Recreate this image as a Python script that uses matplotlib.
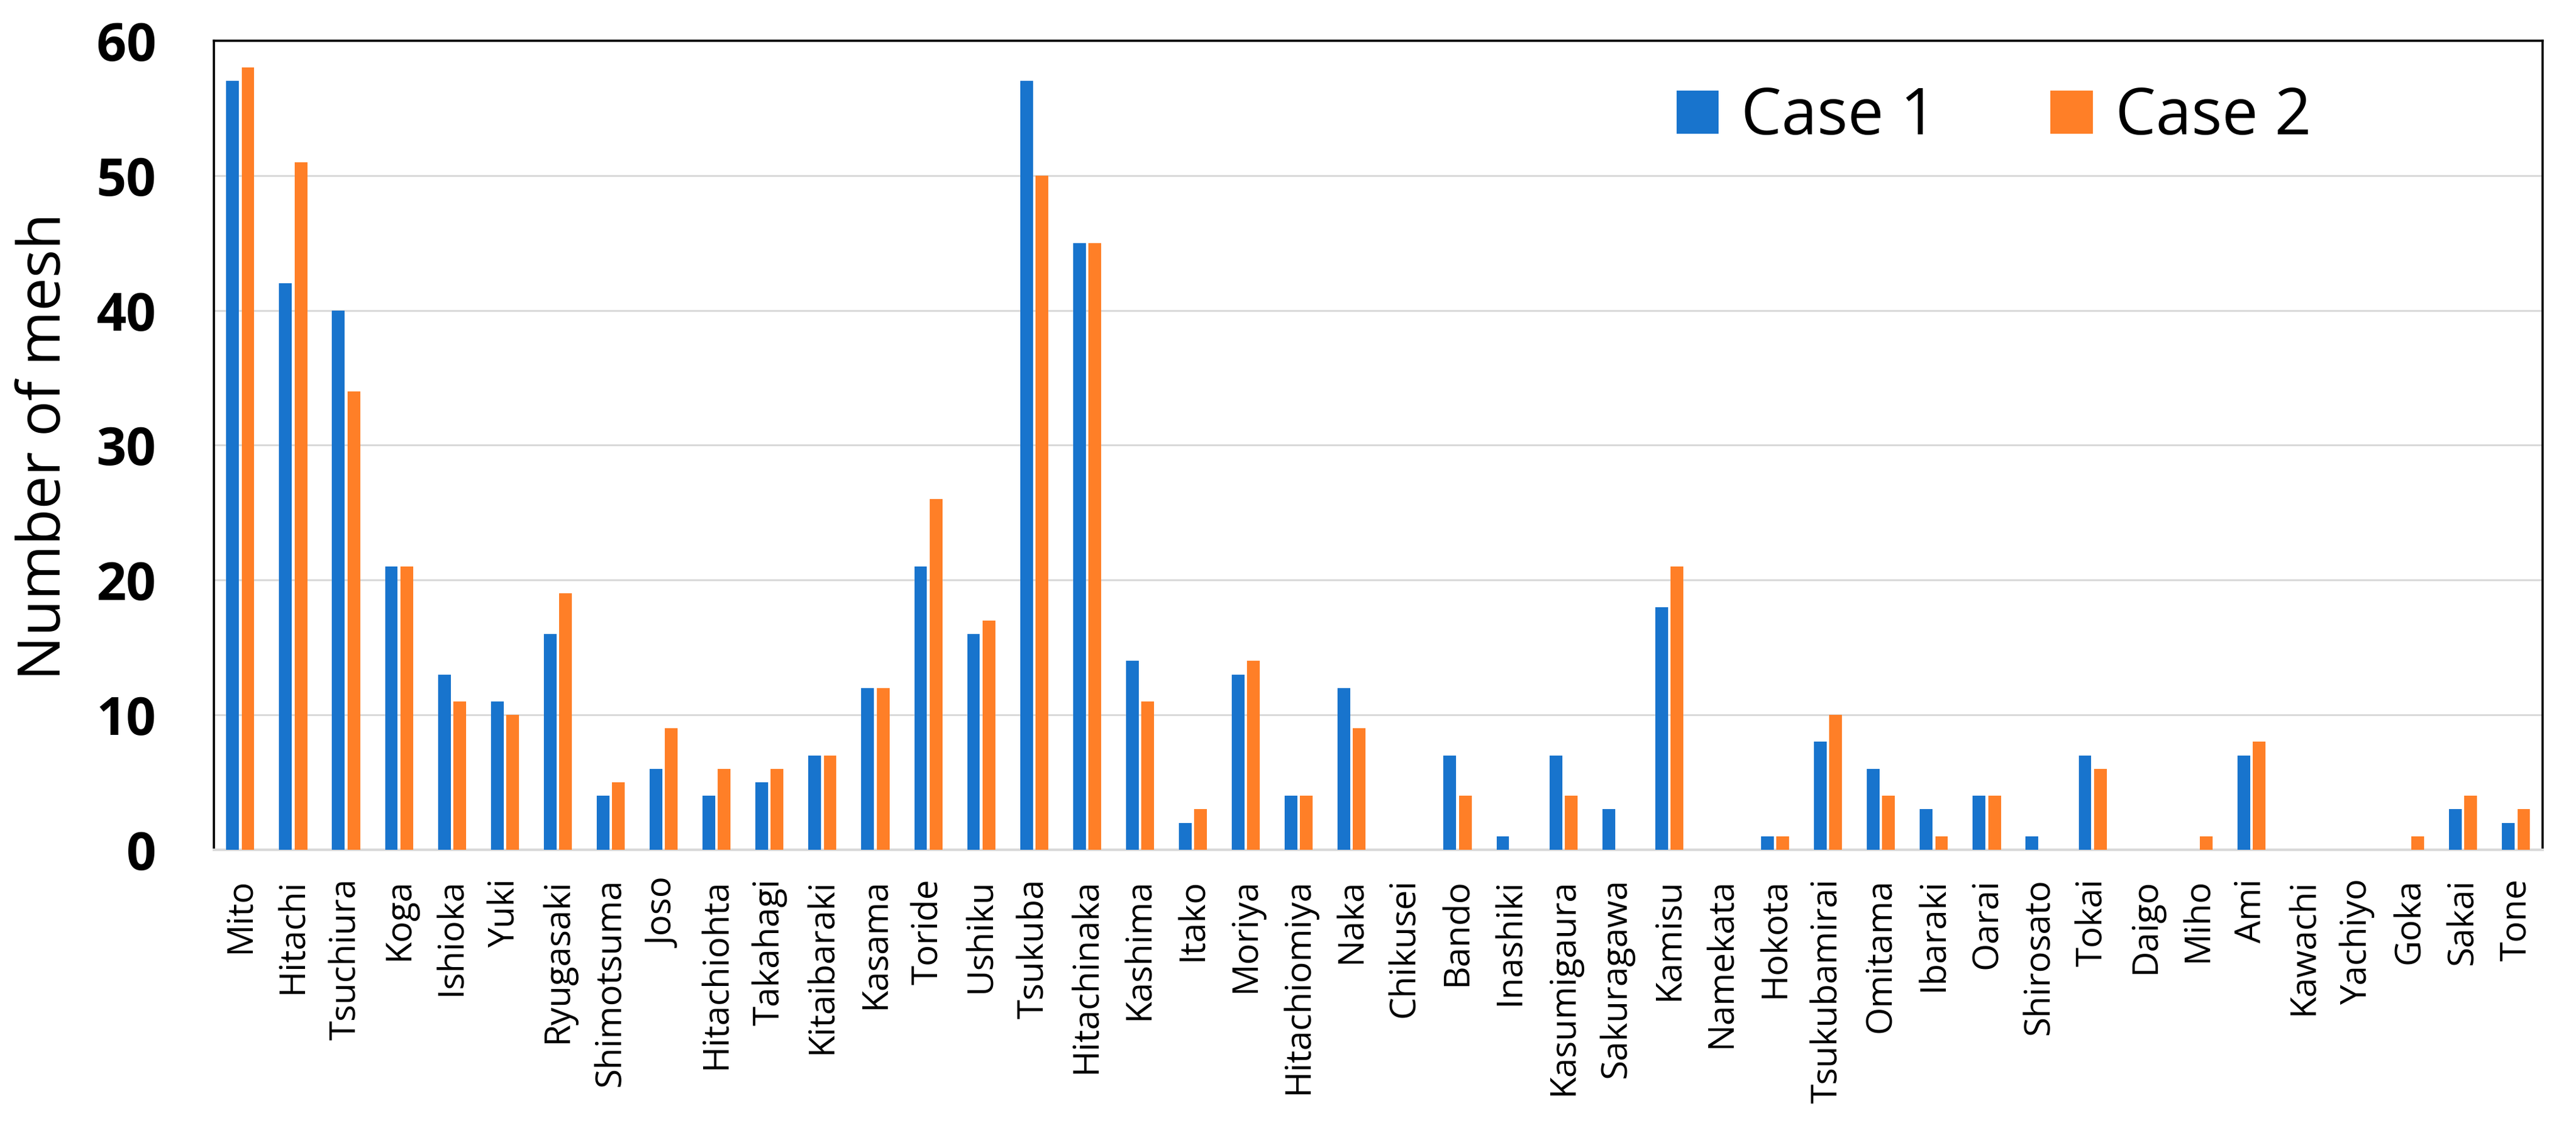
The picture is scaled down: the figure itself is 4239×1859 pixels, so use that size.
import numpy as np
import matplotlib
matplotlib.use("Agg")
import matplotlib.pyplot as plt

# Data
towns = ['Mito', 'Hitachi', 'Tsuchiura', 'Koga', 'Ishioka', 'Yuki', 'Ryugasaki',
         'Shimotsuma', 'Joso', 'Hitachiohta', 'Takahagi', 'Kitaibaraki', 'Kasama',
         'Toride', 'Ushiku', 'Tsukuba', 'Hitachinaka', 'Kashima', 'Itako', 'Moriya',
         'Hitachiomiya', 'Naka', 'Chikusei', 'Bando', 'Inashiki', 'Kasumigaura',
         'Sakuragawa', 'Kamisu', 'Namekata', 'Hokota', 'Tsukubamirai', 'Omitama',
         'Ibaraki', 'Oarai', 'Shirosato', 'Tokai', 'Daigo', 'Miho', 'Ami',
         'Kawachi', 'Yachiyo', 'Goka', 'Sakai', 'Tone']
case1 = [57, 42, 40, 21, 13, 11, 16, 4, 6, 4, 5, 7, 12, 21, 16, 57, 45, 14, 2, 13,
         4, 12, 0, 7, 1, 7, 3, 18, 0, 1, 8, 6, 3, 4, 1, 7, 0, 0, 7, 0, 0, 0, 3, 2]
case2 = [58, 51, 34, 21, 11, 10, 19, 5, 9, 6, 6, 7, 12, 26, 17, 50, 45, 11, 3, 14,
         4, 9, 0, 4, 0, 4, 0, 21, 0, 1, 10, 4, 1, 4, 0, 6, 0, 1, 8, 0, 0, 1, 4, 3]
yticks = [0, 10, 20, 30, 40, 50, 60]

blue = '#1874CD'
orange = '#FF7F27'
grid_grey = '#D9D9D9'

plt.rcParams['font.family'] = ['Open Sans', 'DejaVu Sans']

fig = plt.figure(figsize=(42.39, 18.59), dpi=100)
ax = fig.add_axes([0.083, 0.248, 0.904, 0.716])

x = np.arange(len(towns))
w = 0.24
off = 0.145
ax.bar(x - off, case1, width=w, color=blue, label='Case 1', zorder=3)
ax.bar(x + off, case2, width=w, color=orange, label='Case 2', zorder=3)

ax.set_xlim(-0.5, len(towns) - 0.5)
ax.set_ylim(0, 60)
ax.set_yticks(yticks)
ax.set_yticklabels([str(v) for v in yticks], fontsize=62, fontweight='bold')
ax.set_xticks(x)
ax.set_xticklabels(towns, rotation=90, fontsize=42)
ax.tick_params(axis='y', length=0, pad=68)
ax.tick_params(axis='x', length=0, pad=34)

ax.yaxis.grid(True, color=grid_grey, linewidth=2.2, zorder=0)
ax.set_axisbelow(True)

for side in ['left', 'top', 'right']:
    ax.spines[side].set_color('black')
    ax.spines[side].set_linewidth(2.6)
ax.spines['bottom'].set_color(grid_grey)
ax.spines['bottom'].set_linewidth(3)

fig.text(0.0173, 0.605, 'Number of mesh', rotation=90, fontsize=70,
         ha='center', va='center')

fig.legend(loc='center', bbox_to_anchor=(0.774, 0.896), ncol=2, frameon=False,
           fontsize=76, handlelength=0.66, handleheight=0.66,
           handletextpad=0.35, columnspacing=1.77)

fig.savefig('out.png', dpi=100)
